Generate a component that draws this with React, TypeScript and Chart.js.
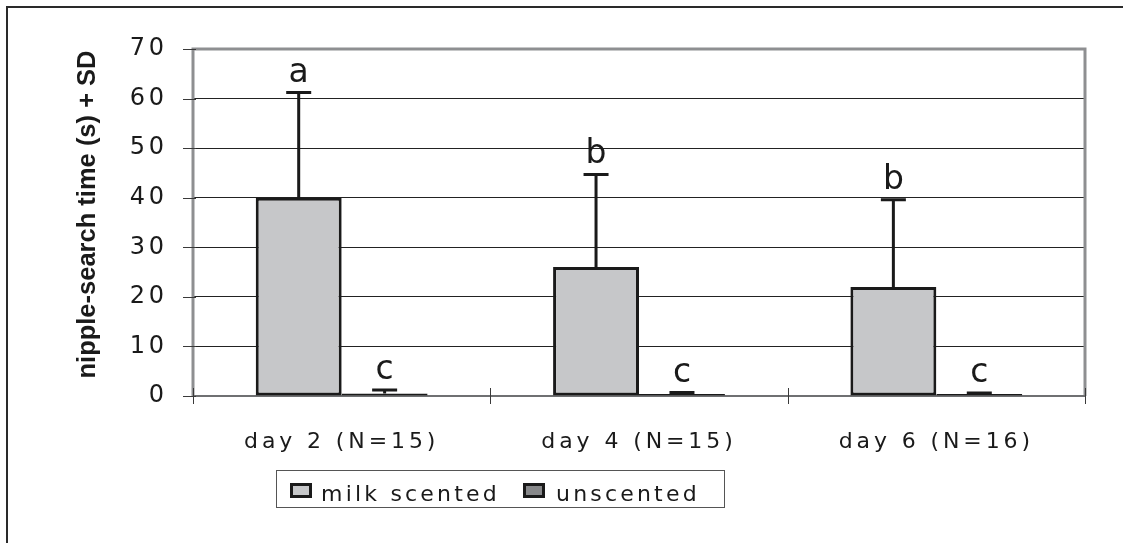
import React, { useEffect, useRef } from 'react';
import { Chart, registerables } from 'chart.js';

Chart.register(...registerables);

const categories = ['day 2 (N=15)', 'day 4 (N=15)', 'day 6 (N=16)'];
const seriesNames = ['milk scented', 'unscented'];
const milkMean = [40, 26, 22];
const milkSD = [21.2, 18.7, 17.6];
const unscentedMean = [0.5, 0.4, 0.4];
const unscentedSD = [0.7, 0.3, 0.2];
const milkLetters = ['a', 'b', 'b'];
const unscentedLetters = ['c', 'c', 'c'];
const yMin = 0;
const yMax = 70;
const yStep = 10;
const yTitle = 'nipple-search time (s) + SD';

const FONT = '"DejaVu Sans", Verdana, sans-serif';
const TITLE_FONT = '"Liberation Sans", Arial, Helvetica, sans-serif';
const INK = '#1a1a1a';
const MILK_FILL = '#c6c7c9';
const UNSC_FILL = '#87888a';

const sdByDataset = [milkSD, unscentedSD];
const lettersByDataset = [milkLetters, unscentedLetters];

const decorPlugin = {
  id: 'decor',
  beforeDraw(chart: any) {
    (chart.ctx as any).letterSpacing = '3.9px';
  },
  beforeDatasetsDraw(chart: any) {
    const { ctx, chartArea: a, scales } = chart;
    ctx.save();
    // plot frame (gray)
    ctx.strokeStyle = '#8e8f91';
    ctx.lineWidth = 3;
    ctx.beginPath();
    ctx.moveTo(a.left, a.bottom);
    ctx.lineTo(a.left, a.top);
    ctx.lineTo(a.right, a.top);
    ctx.lineTo(a.right, a.bottom);
    ctx.stroke();
    // bottom axis
    ctx.strokeStyle = '#6f7072';
    ctx.lineWidth = 2;
    ctx.beginPath();
    ctx.moveTo(a.left, a.bottom);
    ctx.lineTo(a.right, a.bottom);
    ctx.stroke();
    // y tick marks (crossing)
    ctx.strokeStyle = '#3a3a3a';
    ctx.lineWidth = 1;
    for (const t of scales.y.ticks) {
      const py = Math.round(scales.y.getPixelForValue(t.value)) + 0.5;
      ctx.beginPath();
      ctx.moveTo(a.left - 10, py);
      ctx.lineTo(a.left + 3, py);
      ctx.stroke();
    }
    // x tick marks at category boundaries (crossing)
    const x = scales.x;
    const half = (x.getPixelForValue(1) - x.getPixelForValue(0)) / 2;
    for (let i = 0; i <= categories.length; i++) {
      const px = Math.round(x.getPixelForValue(0) - half + i * 2 * half) + 0.5;
      ctx.beginPath();
      ctx.moveTo(px, a.bottom - 8);
      ctx.lineTo(px, a.bottom + 8);
      ctx.stroke();
    }
    ctx.restore();
  },
  afterDatasetsDraw(chart: any) {
    const { ctx, scales } = chart;
    ctx.save();
    (ctx as any).letterSpacing = '0px';
    chart.data.datasets.forEach((ds: any, di: number) => {
      const meta = chart.getDatasetMeta(di);
      meta.data.forEach((bar: any, i: number) => {
        const mean = ds.data[i];
        const top = mean + sdByDataset[di][i];
        const yMean = scales.y.getPixelForValue(mean);
        const yTop = scales.y.getPixelForValue(top);
        ctx.strokeStyle = INK;
        ctx.lineWidth = 3;
        ctx.beginPath();
        ctx.moveTo(bar.x, yMean);
        ctx.lineTo(bar.x, yTop);
        ctx.moveTo(bar.x - 12.5, yTop);
        ctx.lineTo(bar.x + 12.5, yTop);
        ctx.stroke();
        ctx.fillStyle = INK;
        ctx.font = `33px ${FONT}`;
        ctx.textAlign = 'center';
        ctx.textBaseline = 'alphabetic';
        ctx.fillText(lettersByDataset[di][i], bar.x, yTop - 11);
      });
    });
    ctx.restore();
  },
  afterDraw(chart: any) {
    const { ctx, chartArea: a } = chart;
    ctx.save();
    (ctx as any).letterSpacing = '0px';
    ctx.translate(95, (a.top + a.bottom) / 2 - 8);
    ctx.rotate(-Math.PI / 2);
    ctx.fillStyle = INK;
    ctx.font = `bold 25.5px ${TITLE_FONT}`;
    ctx.textAlign = 'center';
    ctx.textBaseline = 'alphabetic';
    ctx.fillText(yTitle, 0, 0);
    ctx.restore();
  },
};

export default function App() {
  const canvasRef = useRef<HTMLCanvasElement | null>(null);

  useEffect(() => {
    const canvas = canvasRef.current;
    if (!canvas) return;
    const chart = new Chart(canvas, {
      type: 'bar',
      data: {
        labels: categories,
        datasets: [
          {
            label: seriesNames[0],
            data: milkMean,
            backgroundColor: MILK_FILL,
            borderColor: INK,
            borderWidth: 3,
            borderSkipped: false,
          },
          {
            label: seriesNames[1],
            data: unscentedMean,
            backgroundColor: UNSC_FILL,
            borderColor: INK,
            borderWidth: 3,
            borderSkipped: false,
          },
        ],
      },
      options: {
        responsive: false,
        animation: false,
        devicePixelRatio: 1,
        layout: { padding: { left: 0, top: 49, right: 38, bottom: 0 } },
        datasets: { bar: { categoryPercentage: 0.578, barPercentage: 1 } },
        plugins: {
          legend: { display: false },
          tooltip: { enabled: false },
          title: { display: false },
        },
        scales: {
          x: {
            type: 'category',
            grid: { display: false, drawTicks: false },
            border: { display: false },
            ticks: {
              color: INK,
              font: { family: FONT, size: 22 },
              padding: 33,
              maxRotation: 0,
              autoSkip: false,
            },
            afterFit(scale: any) {
              scale.height = 147;
            },
          },
          y: {
            min: yMin,
            max: yMax,
            grid: {
              drawTicks: false,
              lineWidth: 1,
              color: (c: any) =>
                c.tick && (c.tick.value === yMin || c.tick.value === yMax) ? 'rgba(0,0,0,0)' : '#222',
            },
            border: { display: false },
            ticks: {
              stepSize: yStep,
              color: INK,
              font: { family: FONT, size: 24 },
              padding: 25,
            },
            afterFit(scale: any) {
              scale.width = 193;
            },
          },
        },
      },
      plugins: [decorPlugin],
    });
    return () => chart.destroy();
  }, []);

  const legendText: React.CSSProperties = {
    position: 'absolute',
    top: 482.5,
    fontFamily: FONT,
    fontSize: 22,
    lineHeight: '22px',
    letterSpacing: '3.2px',
    color: INK,
    whiteSpace: 'nowrap',
  };
  const swatch: React.CSSProperties = {
    position: 'absolute',
    top: 483,
    width: 22,
    height: 15,
    border: `3px solid ${INK}`,
    boxSizing: 'border-box',
  };

  return (
    <div
      style={{
        position: 'fixed',
        left: 0,
        top: 0,
        width: 1123,
        height: 543,
        overflow: 'hidden',
        background: '#fff',
      }}
    >
      <div
        style={{
          position: 'absolute',
          left: 6,
          top: 6,
          width: 1300,
          height: 700,
          borderLeft: '2px solid #2a2a2a',
          borderTop: '2px solid #2a2a2a',
        }}
      />
      <canvas
        ref={canvasRef}
        width={1123}
        height={543}
        style={{ position: 'absolute', left: 0, top: 0, width: 1123, height: 543 }}
      />
      <div
        style={{
          position: 'absolute',
          left: 276,
          top: 470,
          width: 449,
          height: 38,
          border: '1px solid #555',
          boxSizing: 'border-box',
        }}
      />
      <div style={{ ...swatch, left: 290, background: MILK_FILL }} />
      <span style={{ ...legendText, left: 321 }}>{seriesNames[0]}</span>
      <div style={{ ...swatch, left: 523, background: UNSC_FILL }} />
      <span style={{ ...legendText, left: 556 }}>{seriesNames[1]}</span>
    </div>
  );
}
